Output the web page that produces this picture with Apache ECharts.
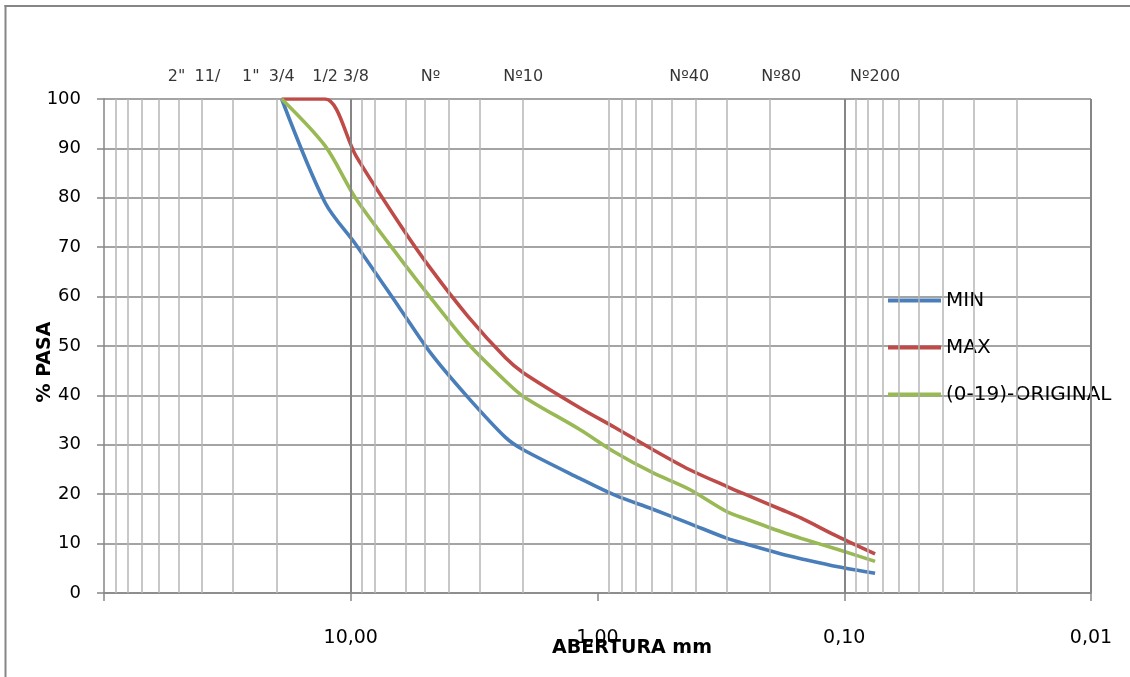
<!DOCTYPE html>
<html>
<head>
<meta charset="utf-8">
<script src="https://cdn.jsdelivr.net/npm/echarts@6/dist/echarts.min.js"></script>
<style>
  html, body { margin: 0; padding: 0; background: #ffffff; overflow: hidden; }
  #chart { width: 1130px; height: 677px; }
</style>
</head>
<body>
<div id="chart"></div>
<script>
// Abertura del tamiz (mm) y porcentaje que pasa en cada curva granulométrica
const aberturaMm   = [19.05, 12.7, 9.525, 6.3, 4.75, 3.35, 2.36, 2.0, 1.18, 0.85, 0.6, 0.425, 0.3, 0.25, 0.18, 0.15, 0.106, 0.075];
const minPasa      = [100, 79, 70.5, 57.5, 48.6, 39.6, 31.5, 29.0, 23.2, 19.8, 17.0, 14.1, 11.1, 9.9, 7.9, 6.95, 5.3, 4.0];
const maxPasa      = [100, 100, 88.5, 74.5, 65.7, 56.0, 47.6, 44.6, 37.5, 33.5, 29.1, 25.0, 21.6, 19.9, 16.9, 15.2, 11.4, 7.9];
const originalPasa = [100, 90.5, 79.8, 67.7, 59.8, 50.5, 42.9, 39.8, 33.1, 28.5, 24.4, 21.0, 16.5, 15.0, 12.4, 11.1, 8.8, 6.4];

// Tamices nombrados en la parte superior
const tamicesMm     = [50.8, 38.1, 25.4, 19.05, 12.7, 9.525, 4.75, 2.0, 0.425, 0.18, 0.075];
const tamicesNombre = ['2"', '11/', '1"', '3/4', '1/2', '3/8', 'Nº', 'Nº10', 'Nº40', 'Nº80', 'Nº200'];

// Líneas de división verticales del papel logarítmico
const divisionesMenores = [90, 80, 70, 60, 50, 40, 30, 20,
                           9, 8, 6, 5, 4, 3, 2,
                           0.9, 0.8, 0.7, 0.6, 0.5, 0.4, 0.3, 0.2,
                           0.09, 0.08, 0.07, 0.06, 0.05, 0.04, 0.03, 0.02];
const divisionesMayores = [10, 0.1, 0.01];

const FONT = '"DejaVu Sans", "Liberation Sans", sans-serif';
const GRIS = '#868686';
const GRIS_CLARO = '#b6b6b6';

const pares = (xs, ys) => xs.map((x, i) => [x, ys[i]]);

const curva = (name, color, values) => ({
  name,
  type: 'line',
  data: pares(aberturaMm, values),
  smooth: 0.3,
  symbol: 'none',
  showSymbol: false,
  z: 4,
  lineStyle: { color, width: 3.6 },
  itemStyle: { color },
  emphasis: { disabled: true }
});

const chart = echarts.init(document.getElementById('chart'), null, { renderer: 'canvas' });

chart.setOption({
  backgroundColor: '#ffffff',
  animation: false,
  grid: { left: 104, right: 39, top: 99, bottom: 84, containLabel: false },
  xAxis: {
    type: 'log',
    logBase: 10,
    min: 0.01,
    max: 100,
    inverse: true,
    axisLine: { show: true, lineStyle: { color: GRIS, width: 1.5 } },
    axisTick: { show: true, length: 8, lineStyle: { color: GRIS, width: 1.5 } },
    axisLabel: {
      margin: 36,
      color: '#000',
      fontFamily: FONT,
      fontSize: 19,
      formatter: v => (v >= 99 ? '' : Number(v).toFixed(2).replace('.', ','))
    },
    splitLine: { show: false }
  },
  yAxis: {
    type: 'value',
    min: 0,
    max: 100,
    interval: 10,
    axisLine: { show: true, lineStyle: { color: GRIS, width: 1.5 } },
    axisTick: { show: true, length: 7, lineStyle: { color: GRIS, width: 1.5 } },
    axisLabel: { margin: 23, color: '#000', fontFamily: FONT, fontSize: 18 },
    splitLine: { show: true, lineStyle: { color: GRIS, width: 1.5 } }
  },
  legend: {
    data: ['MIN', 'MAX', '(0-19)-ORIGINAL'],
    orient: 'vertical',
    left: 883,
    top: 285,
    icon: 'rect',
    itemWidth: 53,
    itemHeight: 4,
    itemGap: 26,
    selectedMode: false,
    textStyle: { color: '#000', fontFamily: FONT, fontSize: 20, lineHeight: 21 }
  },
  series: [
    {
      name: 'divisiones',
      type: 'line',
      data: [],
      z: 1,
      silent: true,
      markLine: {
        silent: true,
        symbol: ['none', 'none'],
        label: { show: false },
        animation: false,
        data: [
          ...divisionesMenores.map(v => ({ xAxis: v, lineStyle: { color: GRIS_CLARO, width: 1.5, type: 'solid' } })),
          ...divisionesMayores.map(v => ({ xAxis: v, lineStyle: { color: GRIS, width: 2, type: 'solid' } }))
        ]
      }
    },
    curva('MIN', '#4a7ebb', minPasa),
    curva('MAX', '#be4b48', maxPasa),
    curva('(0-19)-ORIGINAL', '#98b954', originalPasa),
    {
      name: 'tamices',
      type: 'scatter',
      data: tamicesMm.map(v => [v, 100]),
      symbolSize: 1,
      clip: false,
      silent: true,
      z: 5,
      itemStyle: { color: 'rgba(0,0,0,0)' },
      label: {
        show: true,
        position: 'top',
        distance: 14,
        color: '#000',
        fontFamily: FONT,
        fontSize: 16,
        formatter: p => tamicesNombre[p.dataIndex]
      }
    }
  ],
  graphic: [
    {
      type: 'rect',
      silent: true,
      shape: { x: 4.5, y: 5, width: 2, height: 680 },
      style: { fill: GRIS }
    },
    {
      type: 'rect',
      silent: true,
      shape: { x: 4.5, y: 5, width: 1130, height: 2 },
      style: { fill: GRIS }
    },
    {
      type: 'text',
      silent: true,
      x: 45,
      y: 362,
      rotation: Math.PI / 2,
      style: {
        text: '% PASA',
        x: 0, y: 0,
        fill: '#000',
        font: 'bold 19px ' + FONT,
        textAlign: 'center',
        textVerticalAlign: 'middle'
      }
    },
    {
      type: 'text',
      silent: true,
      x: 632,
      y: 648,
      style: {
        text: 'ABERTURA mm',
        x: 0, y: 0,
        fill: '#000',
        font: 'bold 19px ' + FONT,
        textAlign: 'center',
        textVerticalAlign: 'middle'
      }
    }
  ]
});
</script>
</body>
</html>
